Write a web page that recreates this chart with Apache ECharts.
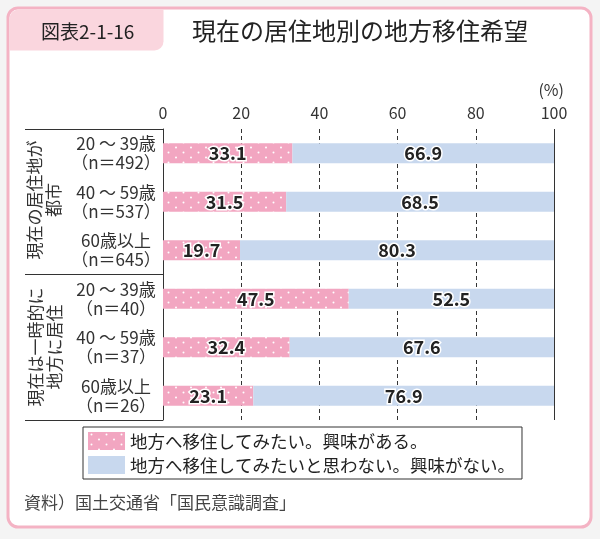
<!DOCTYPE html>
<html>
<head>
<meta charset="utf-8">
<script src="https://cdn.jsdelivr.net/npm/echarts@6/dist/echarts.min.js"></script>
<style>
  html, body { margin: 0; padding: 0; background: #f4f4f4; }
  #main { width: 600px; height: 539px; }
</style>
</head>
<body>
<div id="main"></div>
<script>
// カテゴリ（上から順）
var categories = [
  "20 ～ 39歳\n（n＝492）",
  "40 ～ 59歳\n（n＝537）",
  "60歳以上\n（n＝645）",
  "20 ～ 39歳\n（n＝40）",
  "40 ～ 59歳\n（n＝37）",
  "60歳以上\n（n＝26）"
];
// 地方へ移住してみたい。興味がある。
var wantMove = [33.1, 31.5, 19.7, 47.5, 32.4, 23.1];
// 地方へ移住してみたいと思わない。興味がない。
var notMove = [66.9, 68.5, 80.3, 52.5, 67.6, 76.9];
var xTicks = [0, 20, 40, 60, 80, 100];
var seriesNames = ["地方へ移住してみたい。興味がある。", "地方へ移住してみたいと思わない。興味がない。"];

var FONT = "'Noto Sans CJK JP', 'Noto Sans', sans-serif";

// ピンクの水玉パターン
function dotPattern() {
  var c = document.createElement("canvas");
  c.width = 15;
  c.height = 10;
  var ctx = c.getContext("2d");
  ctx.fillStyle = "#f2a6c1";
  ctx.fillRect(0, 0, 15, 10);
  ctx.fillStyle = "#ffffff";
  ctx.beginPath(); ctx.arc(3.5, 2.5, 1, 0, Math.PI * 2); ctx.fill();
  ctx.beginPath(); ctx.arc(11, 7.5, 1, 0, Math.PI * 2); ctx.fill();
  return { image: c, repeat: "repeat" };
}

var valueLabel = {
  show: true,
  position: "inside",
  fontFamily: FONT,
  fontSize: 18,
  fontWeight: "bold",
  color: "#222",
  textBorderColor: "#fff",
  textBorderWidth: 3,
  formatter: function (p) { return p.value.toFixed(1); }
};

var myChart = echarts.init(document.getElementById("main"));
myChart.setOption({
  backgroundColor: "#f4f4f4",
  textStyle: { fontFamily: FONT },
  animation: false,
  graphic: [
    // 外枠
    { type: "rect", z: -10, shape: { x: 8, y: 8, width: 583, height: 519, r: 10 },
      style: { fill: "#fff", stroke: "#f4b3c4", lineWidth: 3 } },
    // 見出しタブ
    { type: "rect", z: -9, shape: { x: 9.5, y: 9.5, width: 154, height: 41, r: [9, 0, 9, 0] },
      style: { fill: "#fad6de" } },
    // 左の枠線
    { type: "line", shape: { x1: 25, y1: 129.5, x2: 163, y2: 129.5 }, style: { stroke: "#333", lineWidth: 1 } },
    { type: "line", shape: { x1: 25, y1: 274.5, x2: 163, y2: 274.5 }, style: { stroke: "#333", lineWidth: 1 } },
    { type: "line", shape: { x1: 25, y1: 420.5, x2: 163, y2: 420.5 }, style: { stroke: "#333", lineWidth: 1 } },
    // グループ名（縦書き風）
    { type: "text", x: 44, y: 200, rotation: Math.PI / 2,
      style: { text: "現在の居住地が\n都市", font: "17px " + FONT, fill: "#333",
        align: "center", verticalAlign: "middle", lineHeight: 19 } },
    { type: "text", x: 45, y: 347, rotation: Math.PI / 2,
      style: { text: "現在は一時的に\n地方に居住", font: "17px " + FONT, fill: "#333",
        align: "center", verticalAlign: "middle", lineHeight: 19 } },
    // 単位
    { type: "text", x: 564, y: 90,
      style: { text: "(%)", font: "16px " + FONT, fill: "#333", align: "right", verticalAlign: "middle" } },
    // 資料
    { type: "text", x: 24, y: 503,
      style: { text: "資料）国土交通省「国民意識調査」", font: "17px " + FONT, fill: "#444", verticalAlign: "middle" } }
  ],
  title: [
    { text: "図表2-1-16", left: 36, top: 17,
      textStyle: { fontFamily: FONT, fontSize: 19, fontWeight: "normal", color: "#222" } },
    { text: "現在の居住地別の地方移住希望", left: 187, top: 14,
      textStyle: { fontFamily: FONT, fontSize: 24, fontWeight: "normal", color: "#222" } }
  ],
  legend: {
    orient: "vertical",
    left: 83,
    top: 427,
    data: seriesNames,
    borderColor: "#333",
    borderWidth: 1,
    borderRadius: 0,
    padding: [5, 7, 5, 5],
    itemGap: 6,
    itemWidth: 37,
    itemHeight: 18,
    icon: "rect",
    textStyle: { fontFamily: FONT, fontSize: 17.5, color: "#222" }
  },
  grid: { left: 163, right: 46, top: 129, bottom: 119 },
  xAxis: {
    type: "value",
    position: "top",
    min: 0,
    max: 100,
    interval: 20,
    axisLine: { show: false },
    axisTick: { show: false },
    axisLabel: {
      fontFamily: FONT, fontSize: 16, color: "#333", margin: 8,
      formatter: function (v) { return xTicks.indexOf(v) >= 0 ? String(v) : ""; }
    },
    splitLine: { show: true, lineStyle: { color: "#333", type: [4, 3], width: 1 } }
  },
  yAxis: {
    type: "category",
    inverse: true,
    data: categories,
    axisLine: { show: true, lineStyle: { color: "#333", width: 1 } },
    axisTick: { show: false },
    axisLabel: {
      fontFamily: FONT, fontSize: 17, color: "#333", align: "center", margin: 47, lineHeight: 19
    }
  },
  series: [
    {
      name: seriesNames[0],
      type: "bar",
      stack: "total",
      barWidth: 20,
      data: wantMove,
      itemStyle: { color: dotPattern() },
      label: valueLabel
    },
    {
      name: seriesNames[1],
      type: "bar",
      stack: "total",
      barWidth: 20,
      data: notMove,
      itemStyle: { color: "#c8d8ee" },
      label: valueLabel,
      markLine: {
        silent: true,
        symbol: "none",
        label: { show: false },
        lineStyle: { color: "#333", type: "solid", width: 1 },
        data: [{ xAxis: 100 }]
      }
    }
  ]
});
</script>
</body>
</html>
